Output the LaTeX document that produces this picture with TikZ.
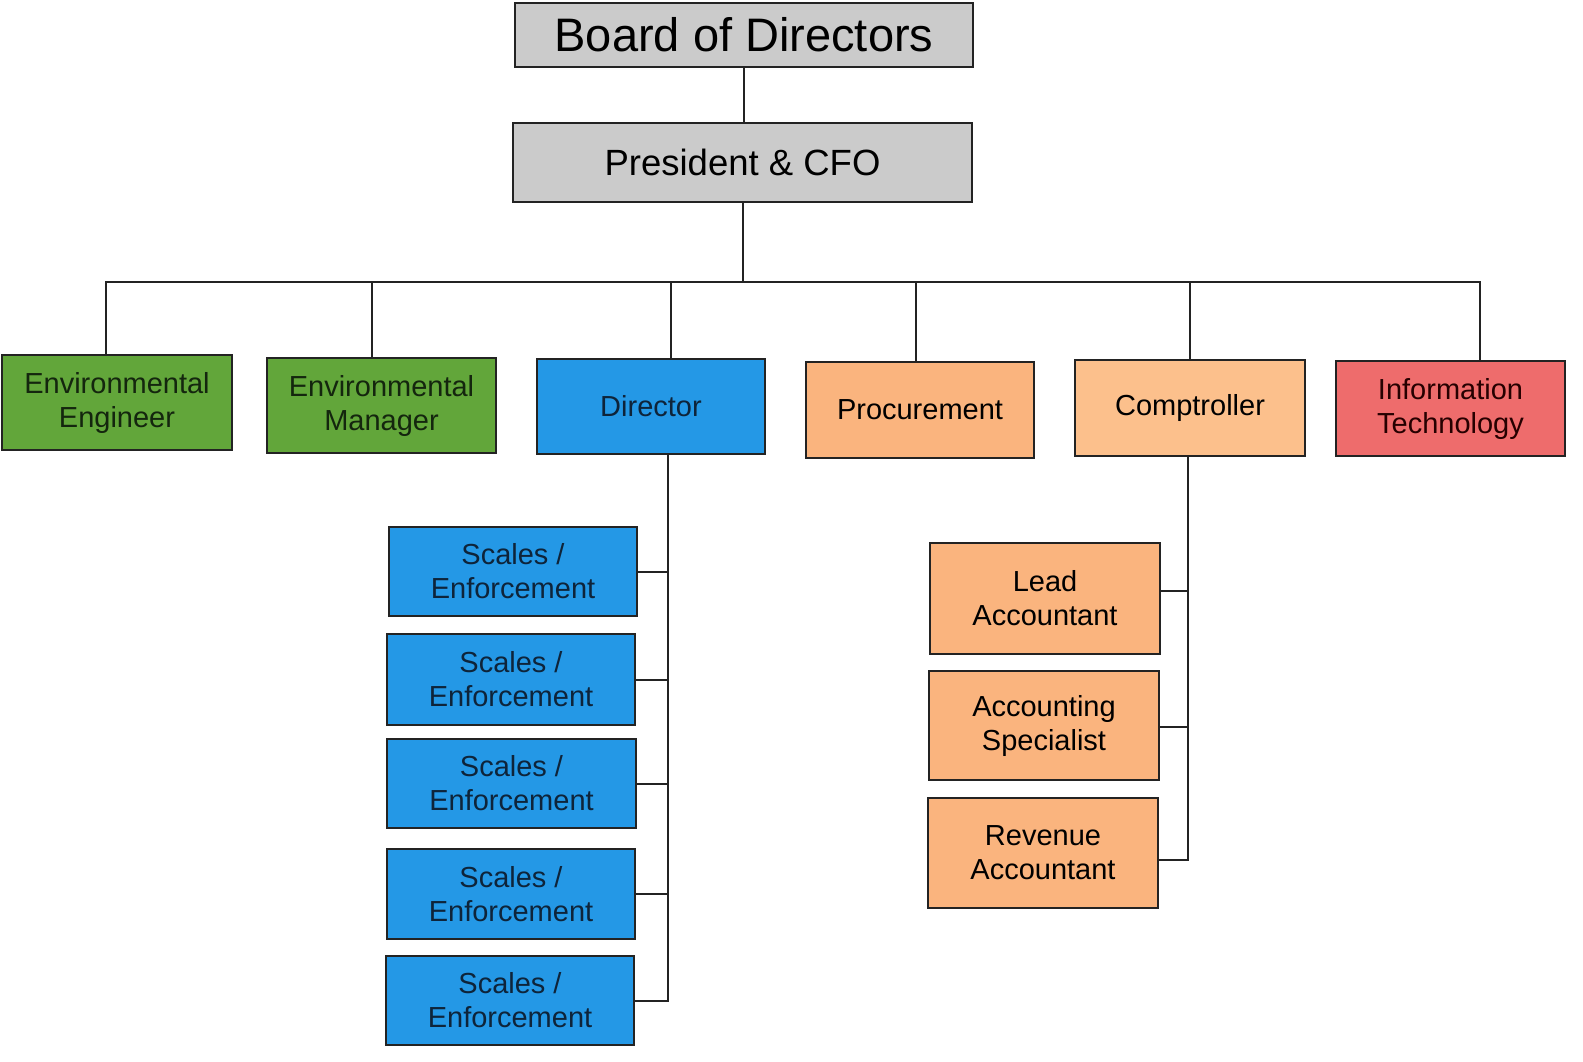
\documentclass[tikz,border=0pt]{standalone}
\usepackage{fontspec}
\setmainfont{Liberation Sans}
\definecolor{boxgray}{RGB}{203,203,203}
\definecolor{boxgreen}{RGB}{98,166,58}
\definecolor{boxblue}{RGB}{36,152,230}
\definecolor{boxorange}{RGB}{250,180,126}
\definecolor{boxorangel}{RGB}{252,192,140}
\definecolor{boxred}{RGB}{238,108,108}
\definecolor{linecol}{RGB}{35,35,35}
\definecolor{greentext}{RGB}{20,38,14}
\definecolor{bluetext}{RGB}{14,36,58}
\begin{document}
\begin{tikzpicture}[x=1pt,y=-1pt,
  orgbox/.style={draw=linecol, line width=2pt, rectangle, align=center, inner sep=0pt,
    font=\fontsize{29}{34}\selectfont, text=black},
  conn/.style={draw=linecol, line width=2pt}]
\useasboundingbox (0,0) rectangle (1583,1061);
% top
\node[orgbox, fill=boxgray, minimum width=458pt, minimum height=64pt, font=\fontsize{47}{52}\selectfont] (board) at (744,35) {Board of Directors};
\node[orgbox, fill=boxgray, minimum width=459pt, minimum height=79pt, font=\fontsize{36.5}{40}\selectfont] (pres) at (742.5,162.5) {President \& CFO};
% level 2
\node[orgbox, fill=boxgreen, text=greentext, minimum width=230pt, minimum height=95pt] (ee) at (117,402.5) {Environmental\\Engineer};
\node[orgbox, fill=boxgreen, text=greentext, minimum width=229pt, minimum height=95pt] (em) at (381.5,405.5) {Environmental\\Manager};
\node[orgbox, fill=boxblue, text=bluetext, minimum width=228pt, minimum height=95pt] (dir) at (651,406.5) {Director};
\node[orgbox, fill=boxorange, minimum width=228pt, minimum height=96pt] (proc) at (920,410) {Procurement};
\node[orgbox, fill=boxorangel, minimum width=230pt, minimum height=96pt] (comp) at (1190,408) {Comptroller};
\node[orgbox, fill=boxred, text=black!85!red, minimum width=229pt, minimum height=95pt] (it) at (1450.5,408.5) {Information\\Technology};
% scales
\node[orgbox, fill=boxblue, text=bluetext, minimum width=248pt, minimum height=89pt] (s1) at (513,571.5) {Scales /\\Enforcement};
\node[orgbox, fill=boxblue, text=bluetext, minimum width=248pt, minimum height=91pt] (s2) at (511,679.5) {Scales /\\Enforcement};
\node[orgbox, fill=boxblue, text=bluetext, minimum width=249pt, minimum height=89pt] (s3) at (511.5,783.5) {Scales /\\Enforcement};
\node[orgbox, fill=boxblue, text=bluetext, minimum width=248pt, minimum height=90pt] (s4) at (511,894) {Scales /\\Enforcement};
\node[orgbox, fill=boxblue, text=bluetext, minimum width=248pt, minimum height=89pt] (s5) at (510,1000.5) {Scales /\\Enforcement};
% accounting
\node[orgbox, fill=boxorange, minimum width=230pt, minimum height=111pt] (la) at (1045,598.5) {Lead\\Accountant};
\node[orgbox, fill=boxorange, minimum width=230pt, minimum height=109pt] (as) at (1044,725.5) {Accounting\\Specialist};
\node[orgbox, fill=boxorange, minimum width=230pt, minimum height=110pt] (ra) at (1043,853) {Revenue\\Accountant};
% connection points
\coordinate (busL) at (106,282);
\coordinate (busR) at (1480,282);
\coordinate (emT) at (372,282);
\coordinate (dirT) at (671,282);
\coordinate (procT) at (916,282);
\coordinate (compT) at (1190,282);
\coordinate (dirTrunk) at (668,0);
\coordinate (compTrunk) at (1188,0);
\coordinate (laE) at ([yshift=7.5pt]la.east);
\coordinate (asE) at ([yshift=-1.5pt]as.east);
\coordinate (raE) at ([yshift=-7pt]ra.east);
% connectors
\draw[conn] (board) -- (board.south |- pres.north);
\draw[conn] (pres.south) -- (pres.south |- busL);
\draw[conn] (busL |- ee.north) -- (busL) -- (busR) -- (busR |- it.north);
\draw[conn] (emT) -- (emT |- em.north);
\draw[conn] (dirT) -- (dirT |- dir.north);
\draw[conn] (procT) -- (procT |- proc.north);
\draw[conn] (compT) -- (compT |- comp.north);
% director trunk
\draw[conn] (dirTrunk |- dir.south) -- (dirTrunk |- s5.east) -- (s5.east);
\draw[conn] (s1.east) -- (s1.east -| dirTrunk);
\draw[conn] (s2.east) -- (s2.east -| dirTrunk);
\draw[conn] (s3.east) -- (s3.east -| dirTrunk);
\draw[conn] (s4.east) -- (s4.east -| dirTrunk);
% comptroller trunk
\draw[conn] (compTrunk |- comp.south) -- (compTrunk |- raE) -- (raE);
\draw[conn] (laE) -- (laE -| compTrunk);
\draw[conn] (asE) -- (asE -| compTrunk);
\end{tikzpicture}
\end{document}
